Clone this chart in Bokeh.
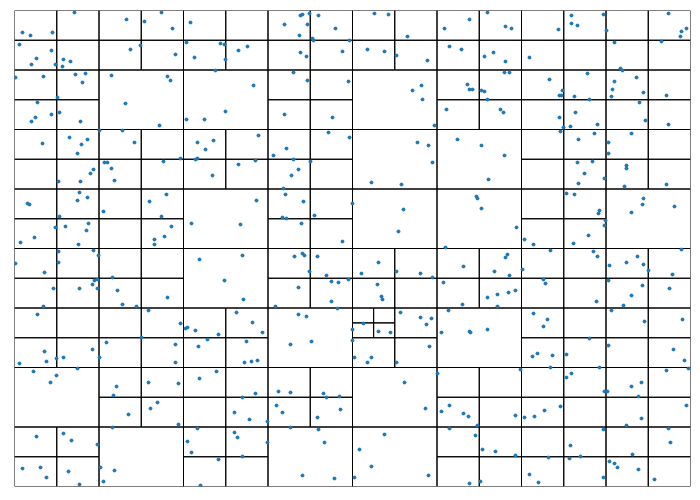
from bokeh.plotting import figure
from bokeh.models import Range1d, ColumnDataSource
from bokeh.embed import file_html
from bokeh.resources import INLINE

# Domain of the quadtree (x to the right, y downward)
DOMAIN_W = 676
DOMAIN_H = 476

# Level-3 cells (col, row on an 8x8 grid) that are leaves (not subdivided further)
leaf_level3 = [(1, 1), (2, 1), (4, 1), (4, 2), (5, 2), (2, 3), (4, 3), (5, 3), (7, 3),
               (2, 4), (3, 5), (5, 5), (0, 6), (4, 6), (1, 7), (3, 7), (4, 7)]
# Level-4 cells (col, row on a 16x16 grid) that are subdivided once more
split_level4 = [(8, 10)]

pt_x = [60, 112, 130, 147, 158, 8, 16, 38, 5, 37, 22, 17, 41, 49, 56, 48, 116, 126, 161, 1,
        29, 61, 71, 68, 43, 23, 37, 21, 17, 45, 66, 97, 153, 156, 111, 145, 85, 108, 120, 28,
        55, 73, 67, 63, 149, 166, 90, 93, 97, 79,
        176, 270, 286, 288, 295, 304, 293, 321, 285, 298, 299, 335, 172, 206, 210, 224, 233, 180, 211, 201,
        286, 292, 328, 279, 293, 334, 239, 270, 318, 211, 172, 190, 314, 335, 244, 183, 199, 191, 181, 183,
        272, 259, 279, 296, 284, 241, 224,
        360, 374, 393, 473, 455, 430, 491, 497, 353, 370, 382, 413, 435, 447, 470, 479, 491, 490, 495, 407,
        398, 408, 420, 453, 455, 458, 467, 470, 473, 432, 486, 489, 403, 414, 418, 443, 467, 490,
        557, 589, 557, 563, 544, 592, 654, 667, 672, 666, 647, 600, 515, 606, 608, 535, 573, 548, 545, 547,
        560, 575, 600, 622, 598, 597, 629, 652, 625, 545, 561, 549, 546, 556, 583, 631, 654, 580, 564, 617,
        594, 594, 563, 578, 612, 612,
        76, 44, 66, 100, 13, 15, 65, 63, 73, 45, 89, 135, 152, 147, 41, 51, 20, 6, 74, 72,
        64, 157, 150, 140, 140, 44, 79, 84, 1, 44, 30, 98, 80, 83, 78, 39, 65, 83, 103, 108,
        122, 153, 29, 23, 134, 166,
        198, 277, 269, 271, 289, 242, 338, 268, 272, 300, 287, 177, 226, 328, 185, 228, 210, 229, 280, 288,
        290, 303, 295, 312, 317, 324, 334, 284, 317, 323, 261, 222, 238, 171, 173, 181, 284, 292, 338,
        357, 387, 474, 389, 384, 462, 463, 467, 502, 510, 431, 364, 347, 382, 406, 418, 449, 493, 491, 480,
        495, 508, 363, 367, 368, 429, 448, 473, 483, 494, 501, 483, 349, 386, 406, 417, 412, 434, 473,
        570, 564, 590, 610, 652, 552, 560, 585, 584, 629, 628, 660, 617, 591, 590, 519, 574, 559, 536, 579,
        583, 595, 612, 623, 629, 634, 667, 658, 529, 531, 594, 628, 617, 655, 582, 609, 597, 519, 533, 529,
        630, 668,
        92, 127, 161, 161, 30, 5, 32, 42, 49, 78, 85, 63, 19, 42, 36, 102, 99, 134, 164, 143,
        136, 114, 164, 98, 22, 49, 57, 83, 8, 26, 32, 54, 65, 86, 100, 89,
        204, 248, 193, 184, 232, 230, 237, 243, 276, 297, 338, 340, 202, 185, 241, 228, 264, 276, 309, 312,
        325, 220, 235, 253, 262, 268, 303, 326, 183, 173, 177, 220, 223, 253, 276, 304, 310, 204, 228, 186,
        288, 320, 340,
        364, 376, 357, 353, 382, 415, 427, 455, 456, 423, 506, 390, 411, 435, 427, 449, 454, 501, 510, 463,
        435, 461, 370, 345, 357, 414, 468, 481, 501, 455, 466,
        575, 594, 659, 670, 518, 523, 538, 552, 536, 585, 552, 557, 652, 674, 590, 593, 617, 627, 624, 546,
        530, 520, 672, 627, 612, 589, 654, 656, 556, 534, 555, 566, 618, 595, 600, 603, 624, 640, 515, 524,
        589]

pt_y = [2, 9, 11, 2, 18, 22, 25, 22, 34, 40, 48, 54, 54, 49, 51, 56, 39, 35, 44, 67,
        66, 64, 63, 72, 87, 92, 104, 107, 111, 102, 111, 65, 66, 70, 93, 115, 120, 120, 132, 133,
        127, 129, 134, 143, 151, 148, 152, 152, 158, 159,
        12, 14, 5, 4, 3, 5, 14, 18, 25, 28, 30, 30, 32, 33, 34, 40, 36, 47, 49, 60,
        42, 46, 41, 62, 70, 71, 75, 104, 107, 101, 109, 109, 122, 127, 125, 132, 130, 139, 149, 148,
        138, 145, 149, 151, 159, 150, 154,
        3, 4, 26, 2, 9, 18, 16, 18, 39, 41, 45, 50, 36, 39, 46, 42, 51, 62, 62, 75,
        80, 89, 115, 74, 79, 79, 80, 81, 89, 99, 99, 102, 132, 135, 152, 129, 135, 145,
        5, 4, 13, 15, 19, 20, 3, 21, 18, 26, 31, 32, 47, 58, 60, 69, 63, 80, 85, 85,
        86, 89, 71, 67, 79, 86, 82, 85, 92, 107, 102, 117, 121, 116, 114, 110, 114, 123, 129, 123,
        132, 143, 152, 151, 155, 158,
        163, 171, 171, 170, 193, 194, 182, 190, 187, 206, 201, 191, 184, 206, 217, 216, 227, 232, 213, 220,
        234, 216, 226, 229, 234, 241, 240, 245, 253, 252, 262, 267, 270, 269, 274, 278, 278, 278, 280, 294,
        296, 287, 296, 304, 300, 313,
        165, 165, 178, 184, 191, 190, 193, 207, 208, 205, 213, 213, 214, 231, 249, 245, 270, 289, 246, 243,
        245, 246, 261, 265, 271, 272, 269, 277, 291, 298, 296, 302, 312, 318, 317, 320, 304, 306, 319,
        172, 174, 169, 199, 221, 186, 188, 198, 217, 229, 237, 252, 263, 261, 263, 267, 256, 244, 247, 261,
        265, 259, 274, 286, 289, 272, 294, 287, 284, 282, 280, 296, 313, 302, 307, 308, 314, 300, 319,
        163, 173, 168, 176, 174, 183, 184, 200, 203, 188, 194, 196, 202, 210, 215, 234, 225, 233, 240, 241,
        246, 255, 252, 246, 254, 260, 239, 264, 269, 273, 270, 275, 285, 278, 291, 295, 300, 303, 309, 316,
        311, 309,
        332, 327, 334, 352, 341, 353, 351, 348, 347, 339, 347, 358, 361, 365, 372, 376, 385, 372, 373, 392,
        398, 404, 414, 417, 426, 423, 430, 434, 458, 457, 467, 461, 474, 457, 460, 471,
        324, 322, 329, 336, 331, 352, 351, 350, 334, 331, 330, 347, 361, 368, 383, 387, 381, 382, 383, 387,
        386, 402, 409, 411, 395, 402, 407, 399, 418, 431, 442, 422, 427, 432, 417, 419, 432, 449, 446, 475,
        465, 468, 467,
        321, 322, 347, 352, 352, 336, 322, 321, 322, 363, 359, 372, 398, 395, 401, 403, 406, 405, 407, 415,
        418, 425, 424, 439, 456, 465, 439, 441, 445, 473, 471,
        328, 335, 339, 350, 346, 343, 345, 344, 357, 357, 367, 363, 360, 358, 381, 381, 376, 372, 386, 396,
        400, 406, 395, 408, 415, 419, 418, 432, 435, 447, 448, 446, 444, 451, 453, 457, 459, 469, 464, 472,
        467]

# ---- build the leaf rectangles of the quadtree ----
w3, h3 = DOMAIN_W / 8, DOMAIN_H / 8
w4, h4 = w3 / 2, h3 / 2
leaf3 = set(leaf_level3)
split4 = set(split_level4)
L, R, T, B = [], [], [], []


def add(x0, y0, w, h):
    L.append(x0)
    R.append(x0 + w)
    T.append(y0)
    B.append(y0 + h)


for C in range(8):
    for Rw in range(8):
        if (C, Rw) in leaf3:
            add(C * w3, Rw * h3, w3, h3)
            continue
        for i in range(2):
            for j in range(2):
                c, r = 2 * C + i, 2 * Rw + j
                if (c, r) in split4:
                    for a in range(2):
                        for b in range(2):
                            add(c * w4 + a * w4 / 2, r * h4 + b * h4 / 2, w4 / 2, h4 / 2)
                else:
                    add(c * w4, r * h4, w4, h4)

p = figure(width=700, height=500, output_backend="svg", toolbar_location=None,
           x_range=Range1d(0, DOMAIN_W), y_range=Range1d(DOMAIN_H, 0),
           x_axis_location=None, y_axis_location=None,
           min_border_left=14, min_border_right=10, min_border_top=10, min_border_bottom=14,
           background_fill_color="white", border_fill_color="white")
p.outline_line_color = None
p.grid.visible = False

rects = ColumnDataSource(dict(left=L, right=R, top=T, bottom=B))
p.quad(left="left", right="right", top="top", bottom="bottom", source=rects,
       fill_color=None, line_color="black", line_width=1)

pts = ColumnDataSource(dict(x=pt_x, y=pt_y))
p.scatter("x", "y", source=pts, size=3.6, color="#1f77b4", line_width=0.3)

open("out.html", "w").write(file_html(p, INLINE))
